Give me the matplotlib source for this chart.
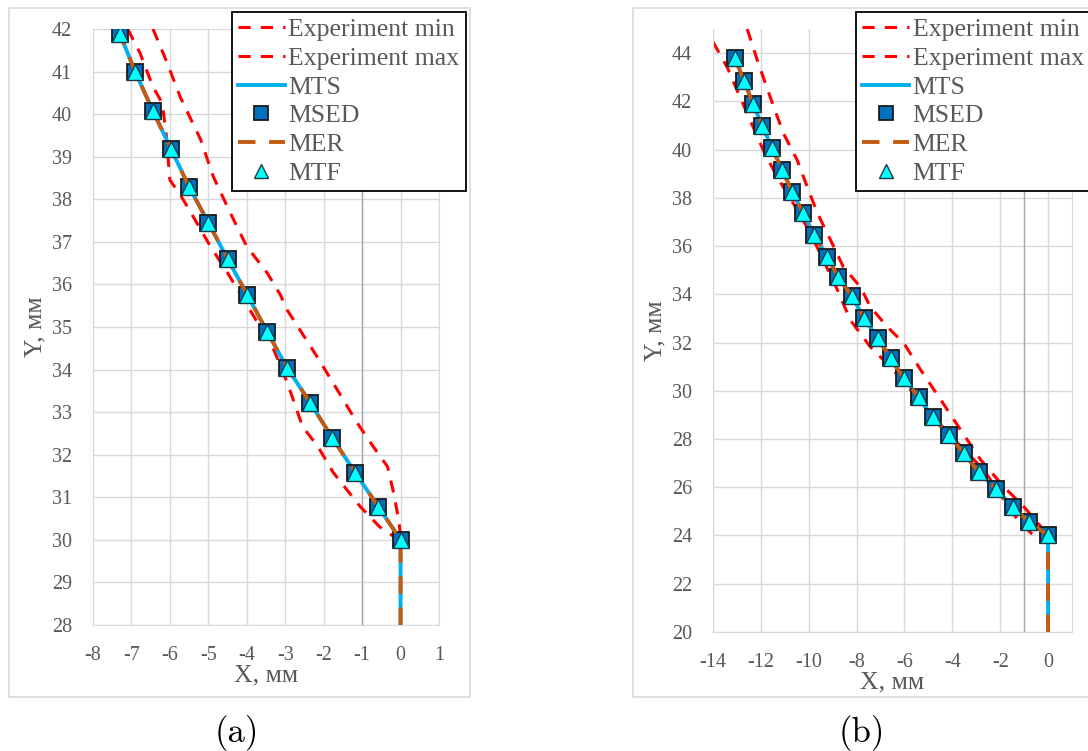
"""Crack path comparison: experiment bounds vs MTS / MSED / MER / MTF, panels (a) and (b)."""
import matplotlib
matplotlib.use("Agg")
import matplotlib.pyplot as plt
from matplotlib.patches import Rectangle

# ---- panel (a) ----
a_path_x = [0.0, 0.0, -0.58, -1.18, -1.78, -2.35, -2.95, -3.47, -3.99, -4.5, -5.0, -5.5, -5.97, -6.44, -6.9, -7.3]
a_path_y = [28.0, 30.0, 30.78, 31.58, 32.4, 33.22, 34.04, 34.89, 35.76, 36.6, 37.45, 38.29, 39.18, 40.07, 40.99, 41.88]
a_min_x = [-7.1, -6.78, -6.44, -6.2, -6.1, -6.0, -5.7, -5.4, -4.95, -4.5, -4.05, -3.3, -2.95, -2.55, -2.15, -1.75, -1.05, -0.55, -0.05]
a_min_y = [42.0, 41.44, 40.64, 40.26, 39.55, 38.45, 38.06, 37.6, 36.9, 36.27, 35.6, 34.47, 33.7, 32.66, 32.19, 31.58, 30.78, 30.31, 30.0]
a_max_x = [-6.44, -6.07, -5.73, -5.2, -4.87, -4.43, -4.0, -3.47, -3.13, -2.95, -2.17, -1.65, -1.13, -0.71, -0.34, -0.18, -0.05, 0.0]
a_max_y = [42.0, 41.2, 40.4, 39.4, 38.53, 37.68, 36.89, 36.27, 35.76, 35.4, 34.3, 33.53, 32.75, 32.19, 31.72, 31.1, 30.47, 30.1]
a_xticks = list(range(-8, 2))
a_yticks = list(range(28, 43))

# ---- panel (b) ----
b_path_x = [0.0, 0.0, -0.8, -1.47, -2.18, -2.89, -3.52, -4.15, -4.82, -5.41, -6.03, -6.58, -7.12, -7.7,
            -8.2, -8.76, -9.22, -9.77, -10.23, -10.69, -11.1, -11.53, -11.94, -12.32, -12.7, -13.08]
b_path_y = [20.0, 24.0, 24.56, 25.18, 25.93, 26.63, 27.4, 28.17, 28.9, 29.74, 30.52, 31.35, 32.18, 33.02,
            33.93, 34.7, 35.54, 36.46, 37.37, 38.24, 39.15, 40.06, 40.97, 41.88, 42.84, 43.79]
b_min_x = [-14.0, -13.41, -12.87, -12.45, -11.9, -11.32, -10.65, -9.93, -9.39, -8.8, -8.26, -7.42, -6.58,
           -5.74, -4.78, -3.77, -2.68, -1.84, -1.26, -0.71, -0.15]
b_min_y = [44.46, 43.42, 42.18, 41.22, 39.98, 38.86, 37.78, 36.54, 35.42, 34.18, 32.93, 31.81, 30.98,
           30.03, 28.9, 27.83, 26.71, 25.47, 24.64, 24.1, 23.7]
b_max_x = [-12.57, -12.15, -11.61, -11.06, -10.48, -10.06, -9.64, -9.09, -8.55, -7.84, -7.42, -6.71,
           -6.03, -5.32, -4.48, -3.65, -2.81, -1.84, -1.0, -0.29, 0.0]
b_max_y = [45.0, 43.71, 42.18, 40.68, 39.56, 38.45, 37.37, 36.25, 35.13, 34.3, 33.47, 32.64,
           31.98, 30.86, 29.62, 28.37, 27.13, 26.01, 25.18, 24.35, 24.1]
b_xticks = list(range(-14, 1, 2))
b_yticks = list(range(20, 45, 2))

LABELS = ["Experiment min", "Experiment max", "MTS", "MSED", "MER", "MTF"]
GRID = "#d9d9d9"
TXT = "#595959"
SERIF = ["Liberation Serif", "DejaVu Serif"]

plt.rcParams["font.family"] = SERIF
plt.rcParams["axes.unicode_minus"] = False


def draw_panel(ax, path_x, path_y, mn_x, mn_y, mx_x, mx_y, xlim, ylim, xticks, yticks):
    ax.plot(mn_x, mn_y, color="red", lw=2.2, dashes=(4, 3.3), label=LABELS[0])
    ax.plot(mx_x, mx_y, color="red", lw=2.2, dashes=(4, 3.3), label=LABELS[1])
    ax.plot(path_x, path_y, color="#00b0f0", lw=2.8, label=LABELS[2])
    ax.plot(path_x[1:], path_y[1:], ls="none", marker="s", ms=11.5, mfc="#0070c0", mec="#1a1a1a", mew=1.3,
            label=LABELS[3])
    ax.plot(path_x, path_y, color="#c55a11", lw=2.8, dashes=(4.5, 3.5), label=LABELS[4])
    ax.plot(path_x[1:], path_y[1:], ls="none", marker="^", ms=11.5, mfc="#00ffff", mec="#1a3a4a", mew=1.0,
            label=LABELS[5])
    ax.axvline(-1, color="#a6a6a6", lw=1.0, zorder=0.6)
    ax.set_xlim(*xlim)
    ax.set_ylim(*ylim)
    ax.set_xticks(xticks)
    ax.set_yticks(yticks)
    ax.grid(True, color=GRID, lw=1.0)
    ax.set_axisbelow(True)
    for s in ["left", "right", "bottom"]:
        ax.spines[s].set_color(GRID)
    ax.spines["top"].set_visible(False)
    ax.tick_params(length=0, labelsize=14.5, labelcolor=TXT, pad=15)
    ax.set_xlabel("X, мм", fontsize=18.5, color=TXT, labelpad=0)
    ax.set_ylabel("Y, мм", fontsize=18.5, color=TXT, labelpad=4)


def add_legend(fig, ax, anchor, loc):
    leg = ax.legend(loc=loc, bbox_to_anchor=anchor, bbox_transform=fig.transFigure, fontsize=18.5,
                    frameon=True, fancybox=False, edgecolor="black", framealpha=1,
                    borderpad=0.25, labelspacing=0.22, handlelength=1.8, handletextpad=0.15,
                    borderaxespad=0, markerscale=0.85)
    leg.get_frame().set_linewidth(1.3)
    for t in leg.get_texts():
        t.set_color(TXT)


def main():
    fig = plt.figure(figsize=(10.88, 7.51), dpi=100)
    fig.add_artist(Rectangle((0.0083, 0.0719), 0.4237, 0.9174, transform=fig.transFigure,
                             fill=False, edgecolor=GRID, lw=1.2))
    fig.add_artist(Rectangle((0.5818, 0.0719), 0.43, 0.9174, transform=fig.transFigure,
                             fill=False, edgecolor=GRID, lw=1.2))

    ax1 = fig.add_axes([0.0855, 0.1678, 0.318, 0.7936])
    draw_panel(ax1, a_path_x, a_path_y, a_min_x, a_min_y, a_max_x, a_max_y,
               (-8, 1), (28, 42), a_xticks, a_yticks)
    add_legend(fig, ax1, (466 / 1088, 1 - 12 / 751), "upper right")

    ax2 = fig.add_axes([0.6553, 0.1585, 0.33, 0.803])
    draw_panel(ax2, b_path_x, b_path_y, b_min_x, b_min_y, b_max_x, b_max_y,
               (-14, 1), (20, 45), b_xticks, b_yticks)
    add_legend(fig, ax2, (856 / 1088, 1 - 12 / 751), "upper left")

    fig.text(0.218, 0.024, "(a)", fontsize=25, family=["cmr10", "DejaVu Serif"], ha="center", va="center")
    fig.text(0.792, 0.024, "(b)", fontsize=25, family=["cmr10", "DejaVu Serif"], ha="center", va="center")
    fig.savefig("out.png", dpi=100)


if __name__ == "__main__":
    main()
